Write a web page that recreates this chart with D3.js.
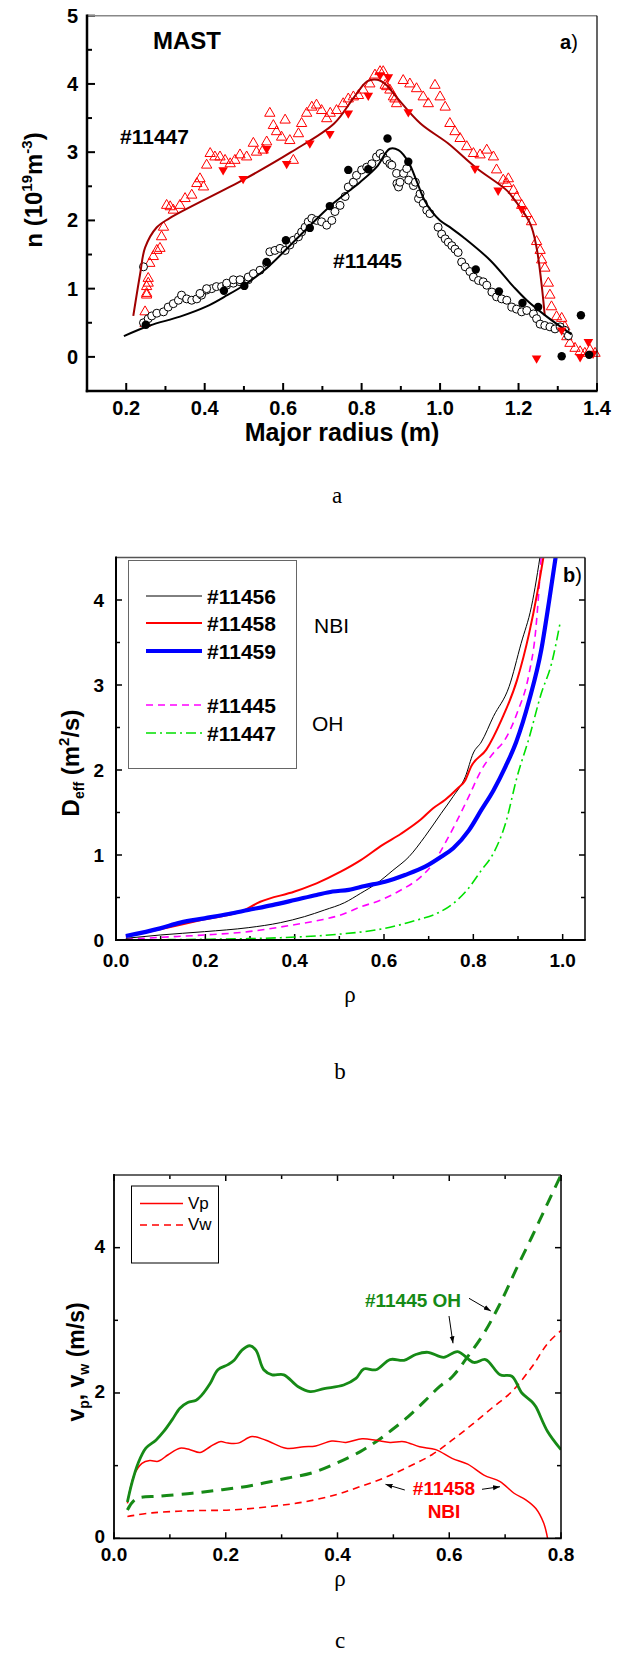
<!DOCTYPE html>
<html><head><meta charset="utf-8">
<script src="https://cdn.jsdelivr.net/npm/d3@7"></script>
<style>body{margin:0;background:#fff} text{font-family:"Liberation Sans",Arial,sans-serif}</style>
</head><body><svg id="c" width="626" height="1656" xmlns="http://www.w3.org/2000/svg"></svg>
<script>
// ---------------- Panel a data (Major radius, n) ----------------
const a_xTicks = [0.2,0.4,0.6,0.8,1.0,1.2,1.4];
const a_yTicks = [0,1,2,3,4,5];
const a_tri11447 = [[0.248,0.49],[0.248,0.66],[0.252,0.93],[0.256,1.08],[0.252,0.906],[0.252,1.03],[0.256,1.15],[0.26,1.37],[0.269,1.47],[0.278,1.56],[0.286,1.59],[0.29,1.76],[0.295,1.9],[0.303,2.22],[0.312,2.2],[0.32,2.15],[0.337,2.22],[0.35,2.32],[0.367,2.37],[0.38,2.54],[0.388,2.61],[0.397,2.49],[0.405,2.81],[0.414,2.98],[0.426,2.93],[0.439,2.93],[0.452,2.88],[0.465,2.83],[0.477,2.88],[0.49,2.96],[0.507,2.93],[0.524,3.13],[0.532,3.0],[0.549,3.03],[0.558,3.15],[0.566,3.57],[0.575,3.39],[0.583,3.3],[0.596,3.22],[0.605,3.47],[0.617,3.17],[0.626,2.88],[0.639,3.27],[0.647,3.42],[0.66,3.57],[0.673,3.66],[0.685,3.69],[0.698,3.61],[0.711,3.49],[0.72,3.57],[0.736,3.61],[0.753,3.71],[0.766,3.78],[0.779,3.81],[0.792,3.83],[0.804,3.91],[0.821,4.0],[0.834,4.13],[0.847,4.18],[0.855,4.18],[0.86,3.98],[0.864,3.96],[0.872,3.91],[0.881,3.81],[0.885,3.78],[0.889,3.71],[0.906,4.05],[0.923,4.0],[0.94,3.93],[0.957,3.81],[0.97,3.71],[0.987,3.98],[1.0,3.81],[1.013,3.66],[1.025,3.42],[1.038,3.3],[1.051,3.2],[1.068,3.08],[1.085,2.98],[1.102,2.96],[1.119,3.03],[1.136,2.93],[1.144,2.74],[1.161,2.59],[1.17,2.54],[1.174,2.61],[1.187,2.44],[1.195,2.34],[1.208,2.22],[1.221,2.1],[1.233,1.98],[1.246,1.69],[1.255,1.56],[1.259,1.42],[1.267,1.3],[1.276,1.08],[1.28,0.905],[1.284,0.734],[1.297,0.588],[1.31,0.564],[1.318,0.44],[1.323,0.295],[1.331,0.198],[1.344,0.125],[1.357,0.075],[1.369,0.052],[1.382,0.1],[1.395,0.052]];
const a_triFilled11447 = [[0.447,2.74],[0.498,2.61],[0.558,3.05],[0.609,2.83],[0.668,3.13],[0.719,3.27],[0.766,3.57],[0.817,3.83],[0.847,4.13],[0.868,4.1],[0.919,3.59],[1.089,2.76],[1.148,2.44],[1.208,2.17],[1.246,-0.02],[1.31,0.39],[1.357,0.0],[1.378,0.22],[1.39,0.05]];
const a_fit11447 = [[0.218,0.6],[0.235,1.2],[0.248,1.6],[0.278,1.9],[0.31,2.03],[0.5,2.6],[0.62,3.0],[0.73,3.42],[0.78,3.8],[0.815,4.04],[0.84,4.06],[0.862,3.99],[0.89,3.8],[0.95,3.42],[1.02,3.13],[1.09,2.78],[1.17,2.44],[1.19,2.3],[1.23,1.95],[1.246,1.6],[1.258,1.1],[1.267,0.6]];
const a_circ11445 = [[0.244,1.32],[0.244,0.5],[0.256,0.56],[0.265,0.6],[0.278,0.64],[0.295,0.66],[0.307,0.73],[0.32,0.78],[0.333,0.83],[0.341,0.905],[0.354,0.85],[0.367,0.83],[0.38,0.85],[0.392,0.905],[0.405,0.98],[0.418,1.0],[0.43,1.03],[0.443,1.03],[0.456,1.05],[0.473,1.08],[0.49,1.1],[0.511,1.13],[0.388,0.93],[0.405,1.0],[0.456,1.08],[0.473,1.13],[0.49,1.13],[0.511,1.17],[0.524,1.22],[0.541,1.27],[0.558,1.37],[0.566,1.54],[0.579,1.56],[0.592,1.59],[0.605,1.56],[0.617,1.64],[0.626,1.71],[0.639,1.76],[0.647,1.83],[0.656,1.9],[0.664,1.98],[0.673,2.03],[0.685,2.0],[0.698,1.98],[0.711,1.93],[0.724,2.0],[0.732,2.13],[0.745,2.22],[0.758,2.35],[0.766,2.49],[0.779,2.56],[0.787,2.66],[0.8,2.74],[0.813,2.78],[0.826,2.83],[0.838,2.93],[0.847,2.98],[0.855,2.93],[0.864,2.88],[0.872,2.83],[0.877,2.81],[0.889,2.69],[0.89,2.54],[0.894,2.49],[0.898,2.56],[0.907,2.69],[0.915,2.76],[0.92,2.59],[0.932,2.51],[0.937,2.56],[0.945,2.32],[0.949,2.39],[0.957,2.25],[0.966,2.15],[0.974,2.1],[0.995,1.9],[1.004,1.8],[1.013,1.73],[1.021,1.68],[1.03,1.63],[1.038,1.58],[1.046,1.53],[1.055,1.39],[1.064,1.32],[1.076,1.25],[1.085,1.17],[1.098,1.12],[1.11,1.1],[1.119,1.05],[1.132,0.95],[1.144,0.88],[1.157,0.85],[1.17,0.83],[1.183,0.73],[1.195,0.7],[1.208,0.66],[1.221,0.68],[1.238,0.63],[1.246,0.56],[1.255,0.48],[1.267,0.46],[1.28,0.44],[1.293,0.41],[1.306,0.44],[1.318,0.39],[1.327,0.31]];
const a_circFilled11445 = [[0.25,0.47],[0.449,0.97],[0.501,1.04],[0.558,1.39],[0.607,1.71],[0.668,1.89],[0.719,2.21],[0.766,2.74],[0.817,2.75],[0.866,3.2],[0.919,2.86],[1.091,1.28],[1.15,0.96],[1.21,0.79],[1.25,0.73],[1.31,0.01],[1.359,0.61],[1.38,0.03]];
const a_fit11445 = [[0.194,0.305],[0.26,0.46],[0.337,0.59],[0.405,0.74],[0.45,0.88],[0.5,1.05],[0.558,1.3],[0.643,1.78],[0.728,2.25],[0.796,2.56],[0.838,2.78],[0.872,3.05],[0.894,3.03],[0.92,2.85],[0.94,2.58],[0.96,2.3],[0.98,2.12],[1.0,2.0],[1.03,1.88],[1.06,1.75],[1.127,1.42],[1.187,1.03],[1.221,0.83],[1.272,0.59],[1.335,0.33]];

// ---------------- Panel b data (rho, D_eff) ----------------
const b_xTicks = [0.0,0.2,0.4,0.6,0.8,1.0];
const b_yTicks = [0,1,2,3,4];
const b_names = ["#11456","#11458","#11459","#11445","#11447"];
const b_11456 = [[0.022,0.02],[0.099,0.059],[0.198,0.098],[0.296,0.145],[0.368,0.204],[0.422,0.275],[0.467,0.353],[0.512,0.44],[0.548,0.55],[0.584,0.667],[0.62,0.82],[0.656,0.98],[0.692,1.22],[0.728,1.49],[0.755,1.69],[0.782,1.92],[0.8,2.2],[0.818,2.33],[0.845,2.63],[0.88,2.98],[0.907,3.49],[0.93,3.92],[0.952,4.6]];
const b_11458 = [[0.022,0.04],[0.099,0.125],[0.198,0.243],[0.279,0.333],[0.323,0.45],[0.4,0.57],[0.449,0.667],[0.503,0.804],[0.548,0.94],[0.597,1.12],[0.638,1.25],[0.683,1.42],[0.71,1.55],[0.737,1.65],[0.764,1.78],[0.782,1.88],[0.795,2.04],[0.829,2.24],[0.863,2.59],[0.898,3.06],[0.925,3.61],[0.943,4.08],[0.96,4.6]];
const b_11459 = [[0.022,0.047],[0.099,0.137],[0.144,0.204],[0.198,0.255],[0.252,0.306],[0.296,0.353],[0.35,0.41],[0.4,0.47],[0.449,0.53],[0.485,0.57],[0.521,0.59],[0.557,0.635],[0.602,0.686],[0.647,0.765],[0.692,0.863],[0.728,0.98],[0.755,1.08],[0.79,1.29],[0.818,1.53],[0.845,1.76],[0.872,2.04],[0.896,2.33],[0.925,2.82],[0.952,3.41],[0.97,4.0],[0.987,4.6]];
const b_11445 = [[0.022,0.008],[0.099,0.031],[0.198,0.059],[0.296,0.098],[0.395,0.176],[0.458,0.235],[0.503,0.294],[0.548,0.39],[0.593,0.47],[0.638,0.588],[0.683,0.745],[0.71,0.9],[0.737,1.14],[0.764,1.41],[0.79,1.69],[0.818,2.0],[0.845,2.2],[0.87,2.35],[0.898,2.67],[0.925,3.14],[0.939,3.61],[0.948,4.2],[0.953,4.6]];
const b_11447 = [[0.022,0.0],[0.189,0.008],[0.296,0.016],[0.404,0.035],[0.503,0.07],[0.602,0.137],[0.674,0.235],[0.719,0.314],[0.755,0.43],[0.786,0.588],[0.818,0.82],[0.845,1.02],[0.872,1.37],[0.898,1.92],[0.925,2.38],[0.952,2.9],[0.975,3.25],[0.995,3.75]];

// ---------------- Panel c data (rho, v) ----------------
const c_xTicks = [0.0,0.2,0.4,0.6,0.8];
const c_yTicks = [0,2,4];
const c_vp11445 = [[0.024,0.5],[0.032,0.76],[0.043,1.03],[0.057,1.24],[0.075,1.35],[0.089,1.47],[0.104,1.63],[0.118,1.79],[0.132,1.87],[0.147,1.9],[0.157,1.97],[0.172,2.13],[0.186,2.32],[0.204,2.39],[0.215,2.45],[0.229,2.59],[0.243,2.65],[0.254,2.59],[0.268,2.32],[0.283,2.25],[0.304,2.25],[0.329,2.09],[0.351,2.02],[0.376,2.06],[0.411,2.11],[0.433,2.2],[0.447,2.33],[0.469,2.32],[0.494,2.46],[0.519,2.45],[0.54,2.53],[0.562,2.56],[0.59,2.49],[0.615,2.57],[0.644,2.42],[0.665,2.46],[0.691,2.25],[0.712,2.23],[0.73,2.0],[0.748,1.88],[0.755,1.81],[0.776,1.47],[0.8,1.22]];
const c_vw11445 = [[0.024,0.39],[0.039,0.54],[0.082,0.58],[0.14,0.62],[0.182,0.66],[0.225,0.7],[0.268,0.76],[0.311,0.83],[0.354,0.9],[0.397,1.03],[0.44,1.19],[0.469,1.33],[0.497,1.49],[0.526,1.67],[0.555,1.88],[0.583,2.09],[0.605,2.22],[0.633,2.5],[0.662,2.82],[0.691,3.23],[0.719,3.69],[0.748,4.15],[0.776,4.61],[0.8,5.0]];
const c_vp11458 = [[0.024,0.48],[0.036,0.87],[0.05,1.03],[0.064,1.07],[0.079,1.06],[0.097,1.15],[0.118,1.24],[0.136,1.22],[0.154,1.18],[0.172,1.26],[0.19,1.33],[0.204,1.31],[0.222,1.31],[0.247,1.4],[0.272,1.35],[0.308,1.24],[0.34,1.26],[0.361,1.27],[0.39,1.34],[0.415,1.32],[0.444,1.37],[0.469,1.35],[0.494,1.32],[0.519,1.33],[0.547,1.26],[0.576,1.22],[0.605,1.1],[0.633,1.02],[0.662,0.87],[0.691,0.78],[0.716,0.62],[0.737,0.53],[0.755,0.41],[0.769,0.21],[0.776,0.0]];
const c_vw11458 = [[0.024,0.3],[0.068,0.35],[0.14,0.38],[0.211,0.39],[0.283,0.44],[0.34,0.5],[0.397,0.6],[0.44,0.71],[0.483,0.83],[0.526,0.98],[0.569,1.15],[0.605,1.35],[0.64,1.56],[0.676,1.79],[0.712,2.02],[0.748,2.36],[0.776,2.68],[0.8,2.86]];

const svg = d3.select("#c");
const BOLD = "bold";

function txt(g, x, y, s, o={}) {
  const t = g.append("text").attr("x", x).attr("y", y).text(s)
    .attr("font-size", o.size || 20).attr("font-weight", o.weight || "normal")
    .attr("fill", o.fill || "#000").attr("text-anchor", o.anchor || "start");
  if (o.family) t.style("font-family", o.family);
  return t;
}

function ticks(g, x, y, opt) {
  const [x0,x1] = x.range(), [y0,y1] = y.range();
  const add = (x1_,y1_,x2_,y2_,w) => g.append("line").attr("x1",x1_).attr("y1",y1_).attr("x2",x2_).attr("y2",y2_).attr("stroke","#000").attr("stroke-width",w);
  opt.xMajor.forEach(v=>{ add(x(v),y0,x(v),y0-opt.maj,opt.tw); if(opt.top) add(x(v),y1,x(v),y1+opt.maj,opt.tw); });
  opt.xMinor.forEach(v=>{ add(x(v),y0,x(v),y0-opt.min,opt.tw); if(opt.top) add(x(v),y1,x(v),y1+opt.min,opt.tw); });
  opt.yMajor.forEach(v=>{ add(x0,y(v),x0+opt.maj,y(v),opt.tw); if(opt.right) add(x1,y(v),x1-opt.maj,y(v),opt.tw); });
  opt.yMinor.forEach(v=>{ add(x0,y(v),x0+opt.min,y(v),opt.tw); if(opt.right) add(x1,y(v),x1-opt.min,y(v),opt.tw); });
}

function frame(g, x, y, o) {
  const [x0,x1] = x.range(), [y0,y1] = y.range();
  g.append("line").attr("x1",x0).attr("x2",x1).attr("y1",y1).attr("y2",y1).attr("stroke",o.topColor).attr("stroke-width",o.topW);
  g.append("line").attr("x1",x1).attr("x2",x1).attr("y1",y1).attr("y2",y0).attr("stroke","#000").attr("stroke-width",o.rightW);
  g.append("line").attr("x1",x0).attr("x2",x0).attr("y1",y1-o.mainW/2).attr("y2",y0+o.mainW/2).attr("stroke","#000").attr("stroke-width",o.mainW);
  g.append("line").attr("x1",x0-o.mainW/2).attr("x2",x1+o.rightW/2).attr("y1",y0).attr("y2",y0).attr("stroke","#000").attr("stroke-width",o.mainW);
}

function tickLabels(g, x, y, xt, yt, o) {
  const [x0] = x.range();
  xt.forEach(v => txt(g, x(v), o.xBase, d3.format(".1f")(v), {size:o.size, weight:BOLD, anchor:"middle"}));
  yt.forEach(v => txt(g, x0 - o.yPad, y(v) + o.size*0.35 - (o.yLift||0), String(v), {size:o.size, weight:BOLD, anchor:"end"}));
}

// ================= Panel a =================
{
  const g = svg.append("g");
  const x = d3.scaleLinear().domain([0.1,1.4]).range([87,597]);
  const y = d3.scaleLinear().domain([-0.5,5]).range([391,15.7]);
  const xMinor = d3.range(0.3,1.35,0.2);
  const yMinor = d3.range(0.5,4.6,1);
  ticks(g, x, y, {xMajor:a_xTicks, xMinor, yMajor:a_yTicks, yMinor, maj:8, min:5, tw:2});

  const line = d3.line().x(d=>x(d[0])).y(d=>y(d[1])).curve(d3.curveCatmullRom.alpha(0.5));
  const triUp = d3.symbol().type(d3.symbolTriangle).size(46);
  const triDn = d3.symbol().type(d3.symbolTriangle).size(40);

  g.selectAll(".tri").data(a_tri11447).enter().append("path")
    .attr("d", triUp).attr("transform", d=>`translate(${x(d[0])},${y(d[1])})`)
    .attr("fill","none").attr("stroke","#ff0000").attr("stroke-width",1);
  g.selectAll(".circ").data(a_circ11445).enter().append("circle")
    .attr("cx", d=>x(d[0])).attr("cy", d=>y(d[1])).attr("r",4)
    .attr("fill","#fff").attr("stroke","#000").attr("stroke-width",1);
  g.append("path").attr("d", line(a_fit11447)).attr("fill","none").attr("stroke","#a00000").attr("stroke-width",2);
  g.append("path").attr("d", line(a_fit11445)).attr("fill","none").attr("stroke","#000").attr("stroke-width",2);
  g.selectAll(".trif").data(a_triFilled11447).enter().append("path")
    .attr("d", triDn).attr("transform", d=>`translate(${x(d[0])},${y(d[1])}) rotate(180)`)
    .attr("fill","#ff0000").attr("stroke","none");
  g.selectAll(".circf").data(a_circFilled11445).enter().append("circle")
    .attr("cx", d=>x(d[0])).attr("cy", d=>y(d[1])).attr("r",4.2).attr("fill","#000");

  frame(g, x, y, {topColor:"#888", topW:1.5, rightW:1.2, mainW:2.5});
  tickLabels(g, x, y, a_xTicks, a_yTicks, {size:20, xBase:415, yPad:9});

  txt(g, 153, 49, "MAST", {size:24, weight:BOLD});
  const ta = txt(g, 560, 49, "a", {size:20, weight:BOLD});
  ta.append("tspan").attr("font-weight","normal").text(")");
  txt(g, 120, 144, "#11447", {size:21, weight:BOLD});
  txt(g, 333, 268, "#11445", {size:21, weight:BOLD});
  txt(g, 342, 441, "Major radius (m)", {size:25, weight:BOLD, anchor:"middle"});
  const yl = g.append("text").attr("transform","translate(42,190) rotate(-90)")
    .attr("text-anchor","middle").attr("font-size",24).attr("font-weight",BOLD);
  yl.append("tspan").text("n (10");
  yl.append("tspan").attr("font-size",15).attr("dy",-10).text("19");
  yl.append("tspan").attr("dy",10).text("m");
  yl.append("tspan").attr("font-size",15).attr("dy",-10).text("-3");
  yl.append("tspan").attr("dy",10).text(")");
  txt(g, 337, 503, "a", {size:23, family:"'Liberation Serif','Times New Roman',serif", anchor:"middle"});
}

// ================= Panel b =================
{
  const g = svg.append("g");
  const x = d3.scaleLinear().domain([0,1.05]).range([116,585]);
  const y = d3.scaleLinear().domain([0,4.5]).range([940,557.5]);
  const xMinor = d3.range(0.1,1.0,0.2);
  const yMinor = d3.range(0.5,4.5,1);
  ticks(g, x, y, {xMajor:b_xTicks, xMinor, yMajor:b_yTicks, yMinor, maj:6, min:4, tw:1.5, right:true});

  g.append("clipPath").attr("id","clipb").append("rect").attr("x",116).attr("y",557.5).attr("width",469).attr("height",382.5);
  const line = d3.line().x(d=>x(d[0])).y(d=>y(d[1])).curve(d3.curveMonotoneX);
  const styles = [
    {data:b_11456, color:"#000", w:1, dash:null},
    {data:b_11458, color:"#ff0000", w:2, dash:null},
    {data:b_11459, color:"#0000ff", w:4.2, dash:null},
    {data:b_11445, color:"#ff00ff", w:1.6, dash:"7,5"},
    {data:b_11447, color:"#00e000", w:1.6, dash:"10,4,2,4"}
  ];
  [4,3,0,1,2].forEach(i => {
    const s = styles[i];
    g.append("path").attr("d", line(s.data)).attr("fill","none").attr("stroke",s.color)
      .attr("stroke-width",s.w).attr("stroke-dasharray",s.dash).attr("clip-path","url(#clipb)");
  });

  frame(g, x, y, {topColor:"#555", topW:1.5, rightW:1.5, mainW:2});
  tickLabels(g, x, y, b_xTicks, b_yTicks, {size:19, xBase:967, yPad:12});

  g.append("rect").attr("x",128.5).attr("y",560.5).attr("width",168).attr("height",208).attr("fill","#fff").attr("stroke","#666").attr("stroke-width",1);
  const ly = [596, 623, 651, 705, 733];
  styles.forEach((s,i) => {
    g.append("line").attr("x1",146).attr("x2",202).attr("y1",ly[i]).attr("y2",ly[i])
      .attr("stroke",s.color).attr("stroke-width",s.w).attr("stroke-dasharray",s.dash);
    txt(g, 207, ly[i]+7.5, b_names[i], {size:21, weight:BOLD});
  });
  txt(g, 314, 633, "NBI", {size:21});
  txt(g, 312, 731, "OH", {size:21});
  const tb = txt(g, 563, 582, "b", {size:20, weight:BOLD});
  tb.append("tspan").attr("font-weight","normal").text(")");

  const yl = g.append("text").attr("transform","translate(79,763) rotate(-90)")
    .attr("text-anchor","middle").attr("font-size",24).attr("font-weight",BOLD);
  yl.append("tspan").text("D");
  yl.append("tspan").attr("font-size",14).attr("dy",5).text("eff");
  yl.append("tspan").attr("dy",-5).text(" (m");
  yl.append("tspan").attr("font-size",15).attr("dy",-10).text("2");
  yl.append("tspan").attr("dy",10).text("/s)");
  txt(g, 350, 1002, "ρ", {size:23, family:"'Liberation Serif','Times New Roman',serif", anchor:"middle"});
  txt(g, 340, 1079, "b", {size:23, family:"'Liberation Serif','Times New Roman',serif", anchor:"middle"});
}

// ================= Panel c =================
{
  const g = svg.append("g");
  const x = d3.scaleLinear().domain([0,0.8]).range([114,561]);
  const y = d3.scaleLinear().domain([0,5]).range([1538.3,1175]);
  const xMinor = [0.1,0.3,0.5,0.7];
  const yMinor = [1,3];
  ticks(g, x, y, {xMajor:c_xTicks, xMinor, yMajor:c_yTicks, yMinor, maj:6, min:4, tw:1.5, right:true, top:true});

  g.append("clipPath").attr("id","clipc").append("rect").attr("x",114).attr("y",1175).attr("width",447).attr("height",363.3);
  const line = d3.line().x(d=>x(d[0])).y(d=>y(d[1])).curve(d3.curveCatmullRom.alpha(0.5));
  const G = "#168a16";
  g.append("path").attr("d", line(c_vw11458)).attr("fill","none").attr("stroke","#ff0000").attr("stroke-width",1.6).attr("stroke-dasharray","7,5").attr("clip-path","url(#clipc)");
  g.append("path").attr("d", line(c_vw11445)).attr("fill","none").attr("stroke",G).attr("stroke-width",3).attr("stroke-dasharray","12,8").attr("clip-path","url(#clipc)");
  g.append("path").attr("d", line(c_vp11458)).attr("fill","none").attr("stroke","#ff0000").attr("stroke-width",1.5).attr("clip-path","url(#clipc)");
  g.append("path").attr("d", line(c_vp11445)).attr("fill","none").attr("stroke",G).attr("stroke-width",2.8).attr("clip-path","url(#clipc)");

  frame(g, x, y, {topColor:"#333", topW:1.5, rightW:1.5, mainW:1.8});
  tickLabels(g, x, y, c_xTicks, c_yTicks, {size:19, xBase:1561, yPad:9, yLift:1.5});

  g.append("rect").attr("x",131.5).attr("y",1186).attr("width",87).attr("height",77).attr("fill","#fff").attr("stroke","#000").attr("stroke-width",1);
  g.append("line").attr("x1",140).attr("x2",183).attr("y1",1203.5).attr("y2",1203.5).attr("stroke","#ff0000").attr("stroke-width",1.5);
  g.append("line").attr("x1",140).attr("x2",183).attr("y1",1225).attr("y2",1225).attr("stroke","#ff0000").attr("stroke-width",1.6).attr("stroke-dasharray","7,5");
  txt(g, 188, 1209, "Vp", {size:17});
  txt(g, 188, 1230, "Vw", {size:17});

  txt(g, 413, 1307, "#11445 OH", {size:19, weight:BOLD, fill:G, anchor:"middle"});
  txt(g, 444, 1495, "#11458", {size:19, weight:BOLD, fill:"#ff0000", anchor:"middle"});
  txt(g, 444, 1518, "NBI", {size:19, weight:BOLD, fill:"#ff0000", anchor:"middle"});
  const defs = svg.append("defs");
  defs.append("marker").attr("id","ah").attr("viewBox","0 0 10 10").attr("refX",10).attr("refY",5)
    .attr("markerWidth",7).attr("markerHeight",7).attr("orient","auto-start-reverse")
    .append("path").attr("d","M0,1.5 L10,5 L0,8.5 Z").attr("fill","#000");
  const arrows = [[469,1298.3,490.8,1311],[449,1316,453,1343.3],[404.8,1490,385.5,1484.3],[482,1489.3,500,1486.7]];
  arrows.forEach(a => g.append("line").attr("x1",a[0]).attr("y1",a[1]).attr("x2",a[2]).attr("y2",a[3])
    .attr("stroke","#000").attr("stroke-width",1).attr("marker-end","url(#ah)"));

  const yl = g.append("text").attr("transform","translate(84,1362) rotate(-90)")
    .attr("text-anchor","middle").attr("font-size",23).attr("font-weight",BOLD);
  yl.append("tspan").text("v");
  yl.append("tspan").attr("font-size",14).attr("dy",5).text("p");
  yl.append("tspan").attr("dy",-5).text(", v");
  yl.append("tspan").attr("font-size",14).attr("dy",5).text("w");
  yl.append("tspan").attr("dy",-5).text(" (m/s)");
  txt(g, 340, 1586, "ρ", {size:23, family:"'Liberation Serif','Times New Roman',serif", anchor:"middle"});
  txt(g, 340, 1648, "c", {size:23, family:"'Liberation Serif','Times New Roman',serif", anchor:"middle"});
}
</script></body></html>
